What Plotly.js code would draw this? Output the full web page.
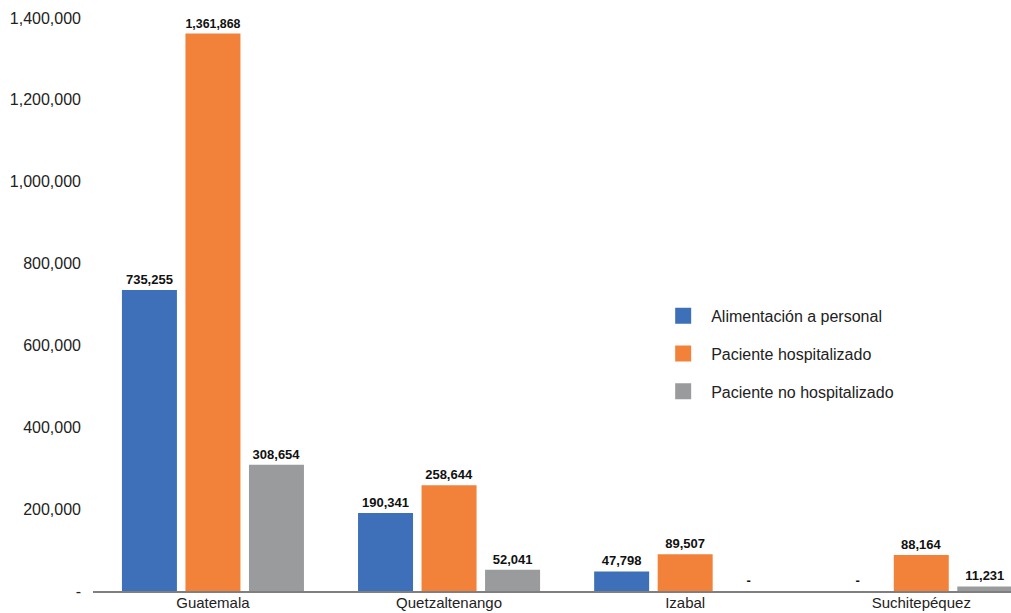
<!DOCTYPE html>
<html>
<head>
<meta charset="utf-8">
<script src="https://cdn.plot.ly/plotly-3.0.1.min.js"></script>
<style>html,body{margin:0;padding:0;background:#fff;}#chart{width:1011px;height:613px;}</style>
</head>
<body>
<div id="chart"></div>
<script>
const categories = ["Guatemala", "Quetzaltenango", "Izabal", "Suchitepéquez"];
const seriesNames = ["Alimentación a personal", "Paciente hospitalizado", "Paciente no hospitalizado"];
const alimentacion = [735255, 190341, 47798, 0];
const hospitalizado = [1361868, 258644, 89507, 88164];
const noHospitalizado = [308654, 52041, 0, 11231];
const yTickVals = [0, 200000, 400000, 600000, 800000, 1000000, 1200000, 1400000];
const yTickText = ["-", "200,000", "400,000", "600,000", "800,000", "1,000,000", "1,200,000", "1,400,000"];

const colors = ["#3D70B8", "#F2823A", "#999B9C"];
const FONT = "'Liberation Sans', Arial, Helvetica, sans-serif";
const fmt = v => v === 0 ? "-" : v.toLocaleString("en-US");
const allSeries = [alimentacion, hospitalizado, noHospitalizado];

const traces = allSeries.map((vals, i) => ({
  type: "bar",
  name: seriesNames[i],
  x: categories,
  y: vals,
  text: vals.map(fmt),
  textposition: "outside",
  cliponaxis: false,
  textfont: {family: FONT, size: 13, color: "#111", weight: "bold"},
  marker: {color: colors[i]},
  showlegend: false,
  hoverinfo: "x+y+name"
}));

// legend entries (larger square markers)
seriesNames.forEach((n, i) => {
  traces.push({
    type: "scatter",
    mode: "markers",
    name: n,
    x: [null],
    y: [null],
    legendgroup: "g" + i,
    marker: {symbol: "square", size: 16, color: colors[i]},
    showlegend: true,
    hoverinfo: "skip"
  });
});

const layout = {
  width: 1011,
  height: 613,
  margin: {l: 93, r: 0, t: 18, b: 22},
  paper_bgcolor: "#fff",
  plot_bgcolor: "#fff",
  barmode: "group",
  bargap: 0.193,
  bargroupgap: 0.134,
  font: {family: FONT, size: 16, color: "#222"},
  showlegend: true,
  legend: {
    x: 0.6124, y: 0.51, xanchor: "left", yanchor: "top",
    font: {family: FONT, size: 16, color: "#222"},
    itemwidth: 46,
    tracegroupgap: 14,
    bgcolor: "rgba(0,0,0,0)"
  },
  xaxis: {
    type: "category",
    range: [-0.508, 3.38],
    showgrid: false,
    zeroline: false,
    showline: true,
    linecolor: "#7f7f7f",
    linewidth: 1.5,
    ticks: "",
    ticklabelstandoff: -3,
    tickfont: {family: FONT, size: 15, color: "#222"},
    fixedrange: true
  },
  yaxis: {
    range: [0, 1400000],
    tickvals: yTickVals,
    ticktext: yTickText,
    showgrid: false,
    zeroline: false,
    showline: false,
    ticks: "",
    ticklabelstandoff: 11,
    tickfont: {family: FONT, size: 16, color: "#222"},
    fixedrange: true
  }
};

Plotly.newPlot("chart", traces, layout, {displayModeBar: false, staticPlot: true});
</script>
</body>
</html>
